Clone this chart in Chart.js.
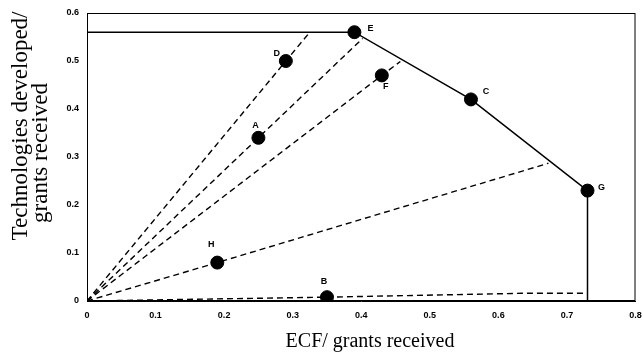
<!DOCTYPE html>
<html><head><meta charset="utf-8">
<script src="https://cdn.jsdelivr.net/npm/chart.js@4/dist/chart.umd.min.js"></script>
<style>html,body{margin:0;padding:0;background:#fff}#wrap{width:643px;height:354px}</style>
</head><body><div id="wrap"><canvas id="c" width="643" height="354"></canvas></div>
<script>
const pointNames = ['A','B','C','D','E','F','G','H'];
const pointX = [0.25, 0.35, 0.56, 0.29, 0.39, 0.43, 0.73, 0.19];
const pointY = [0.34, 0.008, 0.42, 0.50, 0.56, 0.47, 0.23, 0.08];
const frontierX = [0, 0.39, 0.56, 0.73, 0.73];
const frontierY = [0.56, 0.56, 0.42, 0.23, 0];
const rayD = {x:[0, 0.29, 0.325], y:[0, 0.50, 0.56]};
const rayA = {x:[0, 0.25, 0.402], y:[0, 0.34, 0.547]};
const rayF = {x:[0, 0.43, 0.457], y:[0, 0.47, 0.499]};
const rayH = {x:[0, 0.19, 0.673], y:[0, 0.08, 0.287]};
const rayB = {x:[0, 0.35, 0.634, 0.73], y:[0, 0.008, 0.016, 0.016]};
const xTicks = [0, 0.1, 0.2, 0.3, 0.4, 0.5, 0.6, 0.7, 0.8];
const yTicks = [0, 0.1, 0.2, 0.3, 0.4, 0.5, 0.6];
const xTitle = 'ECF/ grants received';
const yTitleLines = ['Technologies developed/', 'grants received'];
const labelOffsets = {A:[-3,-12],B:[-3,-16],C:[15,-8],D:[-9,-7],E:[16,-4],F:[4,11],G:[14,-3],H:[-6,-18]};

const zip = (xs, ys) => xs.map((x,i)=>({x, y: ys[i]}));
const dashed = (r) => ({data: zip(r.x, r.y), showLine:true, borderColor:'#000', borderWidth:1.4, borderDash:[6,4], pointRadius:0, fill:false});

const boxPlugin = {
  id:'box',
  afterDatasetsDraw(chart){
    const {ctx, chartArea:a} = chart;
    ctx.save(); ctx.strokeStyle='#000'; ctx.lineWidth=1;
    ctx.strokeRect(a.left+0.5, a.top+0.5, a.right-a.left-1, a.bottom-a.top-1);
    ctx.restore();
  }
};
const titlePlugin = {
  id:'titles',
  afterDraw(chart){
    const {ctx} = chart;
    ctx.save(); ctx.fillStyle='#000';
    ctx.font='20px "Liberation Serif", "Times New Roman", serif';
    ctx.textAlign='center'; ctx.textBaseline='alphabetic';
    ctx.fillText(xTitle, 370, 347);
    ctx.font='23px "Liberation Serif", "Times New Roman", serif';
    const pos = [[27,126],[47,153]];
    yTitleLines.forEach((t,i)=>{
      ctx.save(); ctx.translate(pos[i][0], pos[i][1]); ctx.rotate(-Math.PI/2);
      ctx.fillText(t, 0, 0); ctx.restore();
    });
    ctx.restore();
  }
};
const labelPlugin = {
  id:'ptlabels',
  afterDatasetsDraw(chart){
    const {ctx} = chart;
    const meta = chart.getDatasetMeta(0);
    ctx.save(); ctx.fillStyle='#000'; ctx.font='bold 9px "Liberation Sans", Arial, sans-serif';
    ctx.textAlign='center'; ctx.textBaseline='middle';
    meta.data.forEach((el,i)=>{
      const n = pointNames[i]; const o = labelOffsets[n];
      ctx.fillText(n, el.x + o[0], el.y + o[1]);
    });
    ctx.restore();
  }
};

new Chart(document.getElementById('c'), {
  type:'scatter',
  data:{datasets:[
    {data: zip(pointX, pointY), pointRadius:6.5, pointBackgroundColor:'#000', pointBorderColor:'#000', showLine:false},
    {data: zip(frontierX, frontierY), showLine:true, borderColor:'#000', borderWidth:1.5, pointRadius:0, fill:false},
    dashed(rayD), dashed(rayA), dashed(rayF), dashed(rayH), dashed(rayB)
  ]},
  options:{
    responsive:false, animation:false, events:[],
    layout:{padding:{top:13, right:5, left:0, bottom:0}},
    plugins:{legend:{display:false}, tooltip:{enabled:false}},
    scales:{
      x:{type:'linear', min:0, max:0.8,
        afterBuildTicks(s){ s.ticks = xTicks.map(v=>({value:v})); },
        afterFit(s){ s.height = 53; s.paddingRight = 0; s.paddingLeft = 0; },
        grid:{display:false, drawTicks:true, tickLength:3, color:'#000'},
        border:{color:'#000', width:1},
        ticks:{color:'#000', padding:6, maxRotation:0, autoSkip:false, font:{family:'"Liberation Sans", Arial, sans-serif', size:9, weight:'bold'}, callback:v=>String(v)},
        title:{display:false}
      },
      y:{type:'linear', min:0, max:0.6,
        afterBuildTicks(s){ s.ticks = yTicks.map(v=>({value:v})); },
        afterFit(s){ s.width = 87; s.paddingTop = 0; s.paddingBottom = 0; },
        grid:{display:false, drawTicks:true, tickLength:4, color:'#000'},
        border:{color:'#000', width:1},
        ticks:{color:'#000', padding:4, autoSkip:false, font:{family:'"Liberation Sans", Arial, sans-serif', size:9, weight:'bold'}, callback:v=>String(v)},
        title:{display:false}
      }
    }
  },
  plugins:[boxPlugin, labelPlugin, titlePlugin]
});
</script></body></html>
